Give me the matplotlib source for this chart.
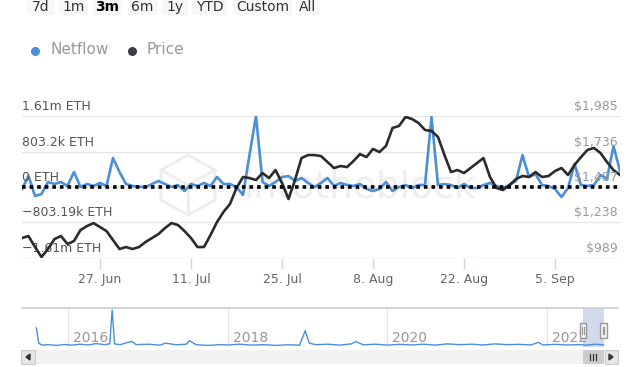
import matplotlib
matplotlib.use("Agg")
import matplotlib.pyplot as plt
import matplotlib.patches as mpatches
import pandas as pd
import numpy as np

# ---------------- data ----------------
start_date = "2022-06-15"
netflow_k = [-45, 249, -204, -158, 113, 68, 113, 23, 339, 0,
             68, 23, 91, 23, 656, 339, 68, 23, 5, -5,
             68, 136, 68, 0, 45, -91, 68, 23, 91, 23,
             226, 68, 68, 0, -181, 724, 1607, 113, 23, 113,
             226, 249, 136, 204, 91, 0, 91, 204, 23, 91,
             45, 23, 68, -45, -91, -45, 113, -91, 0, 45,
             -23, 45, 45, 1584, 45, 68, 45, -23, 68, -23,
             -23, 45, 91, 23, -23, 45, 136, 724, 226, 294,
             45, 23, -45, -226, -23, 520, 45, 23, 45, 272,
             181, 928, 362]
price = [1129, 1143, 1066, 996, 1052, 1122, 1143, 1087, 1108, 1185,
         1213, 1234, 1206, 1178, 1115, 1052, 1066, 1052, 1066, 1101,
         1129, 1157, 1199, 1234, 1220, 1178, 1129, 1066, 1066, 1150,
         1241, 1312, 1368, 1480, 1557, 1550, 1536, 1585, 1550, 1606,
         1515, 1403, 1536, 1690, 1711, 1711, 1704, 1662, 1620, 1634,
         1627, 1669, 1718, 1697, 1754, 1732, 1775, 1901, 1915, 1978,
         1964, 1936, 1887, 1880, 1838, 1711, 1592, 1606, 1585, 1620,
         1655, 1690, 1557, 1480, 1466, 1501, 1543, 1564, 1557, 1592,
         1557, 1564, 1599, 1620, 1571, 1641, 1697, 1747, 1761, 1725,
         1662, 1606, 1571]

netflow_ticks = [-1606.4e3, -803.19e3, 0, 803.2e3, 1606.4e3]
netflow_labels = ["\u22121.61m ETH", "\u2212803.19k ETH", "0 ETH", "803.2k ETH", "1.61m ETH"]
price_ticks = [989, 1238, 1487, 1736, 1985]
price_labels = ["$989", "$1,238", "$1,487", "$1,736", "$1,985"]
date_ticks = ["2022-06-27", "2022-07-11", "2022-07-25", "2022-08-08", "2022-08-22", "2022-09-05"]
date_labels = ["27. Jun", "11. Jul", "25. Jul", "8. Aug", "22. Aug", "5. Sep"]

buttons = ["7d", "1m", "3m", "6m", "1y", "YTD", "Custom", "All"]
selected_button = "3m"

nav_years = [2015.60, 2015.63, 2015.67, 2015.75, 2015.85, 2015.95, 2016.05, 2016.15, 2016.25, 2016.35,
             2016.45, 2016.52, 2016.55, 2016.58, 2016.65, 2016.75, 2016.80, 2016.85, 2017.00, 2017.15,
             2017.22, 2017.35, 2017.48, 2017.52, 2017.60, 2017.75, 2017.90, 2018.00, 2018.15, 2018.30,
             2018.45, 2018.60, 2018.75, 2018.90, 2018.97, 2019.02, 2019.10, 2019.25, 2019.40, 2019.55,
             2019.60, 2019.70, 2019.85, 2020.00, 2020.15, 2020.30, 2020.45, 2020.60, 2020.75, 2020.90,
             2021.05, 2021.20, 2021.35, 2021.50, 2021.65, 2021.80, 2021.89, 2021.95, 2022.10, 2022.25,
             2022.40, 2022.50, 2022.60, 2022.71]
nav_values = [1.22, 0.25, 0.12, 0.15, 0.10, 0.16, 0.12, 0.18, 0.13, 0.22,
              0.15, 0.20, 2.37, 0.20, 0.15, 0.30, 0.35, 0.15, 0.18, 0.12,
              0.25, 0.14, 0.18, 0.40, 0.15, 0.10, 0.15, 0.13, 0.18, 0.12,
              0.15, 0.10, 0.14, 0.12, 1.05, 0.25, 0.15, 0.18, 0.12, 0.20,
              0.35, 0.14, 0.18, 0.12, 0.17, 0.13, 0.18, 0.12, 0.20, 0.15,
              0.18, 0.13, 0.20, 0.15, 0.17, 0.13, 0.30, 0.13, 0.17, 0.13,
              0.15, 0.12, 0.18, 0.14]
nav_year_ticks = [2016, 2018, 2020, 2022]
nav_selected = [2022.45, 2022.71]

# ---------------- styling ----------------
W, H = 640, 367
BLUE = "#4a8fd8"
DARK = "#2b2b2b"
plt.rcParams["font.family"] = ["DejaVu Sans"]

fig = plt.figure(figsize=(W / 100, H / 100), dpi=100)
fig.patch.set_facecolor("white")


def px_axes(x0, y0, x1, y1, **kw):
    return fig.add_axes([x0 / W, 1 - y1 / H, (x1 - x0) / W, (y1 - y0) / H], **kw)


# background overlay axes in pixel coordinates
bg = px_axes(0, 0, W, H)
bg.set_xlim(0, W)
bg.set_ylim(H, 0)
bg.axis("off")

# range selector buttons
btn_boxes = [(27, 55), (59, 88), (93, 122), (128, 157), (162, 188), (192, 227), (233, 292), (296, 320)]
for lbl, (bx0, bx1) in zip(buttons, btn_boxes):
    bg.add_patch(mpatches.Rectangle((bx0, -3), bx1 - bx0, 18, facecolor="#f7f7f7", edgecolor="none"))
    bg.text((bx0 + bx1) / 2, 7, lbl, ha="center", va="center", fontsize=10,
            color="#000000" if lbl == selected_button else "#333333",
            fontweight="bold" if lbl == selected_button else "normal")

# legend
bg.plot([35], [51], "o", color=BLUE, ms=6.5, mec="none")
bg.text(50, 50, "Netflow", ha="left", va="center", fontsize=11, color="#999999")
bg.plot([132], [51], "o", color="#3a3d44", ms=6.5, mec="none")
bg.text(147, 50, "Price", ha="left", va="center", fontsize=11, color="#999999")

# watermark
cube = [(188, 155), (215, 170), (215, 200), (188, 215), (161, 200), (161, 170), (188, 155)]
bg.plot([p[0] for p in cube], [p[1] for p in cube], color="#ededed", lw=2, zorder=0)
bg.plot([161, 188, 215], [170, 185, 170], color="#ededed", lw=2, zorder=0)
bg.plot([188, 188], [185, 215], color="#ededed", lw=2, zorder=0)
bg.text(360, 187, "intotheblock", ha="center", va="center", fontsize=27, color="#eeeeee", zorder=0)

# ---------------- main chart ----------------
dates = pd.date_range(start_date, periods=len(price), freq="D")
ax = px_axes(22, 116, 620, 258)
ax.patch.set_alpha(0)
ax2 = ax.twinx()
ax2.patch.set_alpha(0)

netflow = np.array(netflow_k) * 1000.0
ax.plot(dates, netflow, color=BLUE, lw=1.9, solid_joinstyle="round", zorder=3)
ax2.plot(dates, price, color=DARK, lw=1.9, solid_joinstyle="round", zorder=3)
ax2.plot([dates[0], dates[-1]], [0, 0], transform=ax.transData, color="black",
         lw=2.6, linestyle=(0, (1, 1.1)), zorder=5)

ax.set_xlim(dates[0], dates[-1])
ax.set_ylim(netflow_ticks[0], netflow_ticks[-1])
ax2.set_ylim(price_ticks[0], price_ticks[-1])

for a in (ax, ax2):
    for s in a.spines.values():
        s.set_visible(False)
    a.set_yticks([])
    a.tick_params(axis="both", length=0, labelleft=False, labelright=False)

for t in netflow_ticks[1:]:
    ax.axhline(t, color="#e6e6e6", lw=1, zorder=0)
ax.axhline(netflow_ticks[0], color="#ccd6eb", lw=1, zorder=0)

for t, l in zip(netflow_ticks, netflow_labels):
    ax.annotate(l, xy=(0, t), xycoords=("axes fraction", "data"), xytext=(0, 3),
                textcoords="offset pixels", ha="left", va="bottom", fontsize=9, color="#555555")
for t, l in zip(price_ticks, price_labels):
    ax2.annotate(l, xy=(1, t), xycoords=("axes fraction", "data"), xytext=(-2, 3),
                 textcoords="offset pixels", ha="right", va="bottom", fontsize=9, color="#999999")

tick_dates = pd.to_datetime(date_ticks)
ax.set_xticks(tick_dates)
ax.set_xticklabels(date_labels, fontsize=9, color="#666666")
ax.tick_params(axis="x", length=8, color="#ccd6eb", width=1, pad=3)

# ---------------- navigator ----------------
nav = px_axes(22, 308, 618, 347)
nav.set_xlim(2015.42, 2022.89)
nav.set_ylim(0, 2.5)
nav.plot(nav_years, nav_values, color=BLUE, lw=1)
for s in nav.spines.values():
    s.set_visible(False)
nav.axhline(2.5, color="#cccccc", lw=1.2, clip_on=False)
for y in nav_year_ticks:
    nav.axvline(y, color="#e6e6e6", lw=1, zorder=0)
    nav.text(y + 0.06, 0.1, str(y), ha="left", va="bottom", fontsize=10, color="#999999", zorder=1)
nav.set_xticks([])
nav.set_yticks([])
nav.axvspan(nav_selected[0], nav_selected[1], color="#6685c2", alpha=0.3, lw=0)
for hx in nav_selected:
    nav.add_patch(mpatches.Rectangle((hx - 0.04, 0.6), 0.08, 0.95, facecolor="#f2f2f2",
                                     edgecolor="#999999", lw=1, zorder=6))
    nav.plot([hx - 0.01, hx - 0.01], [0.85, 1.3], color="#999999", lw=0.8, zorder=7)
    nav.plot([hx + 0.01, hx + 0.01], [0.85, 1.3], color="#999999", lw=0.8, zorder=7)

# scrollbar (pixel overlay)
sb = px_axes(0, 0, W, H)
sb.set_xlim(0, W)
sb.set_ylim(H, 0)
sb.axis("off")
sb.patch.set_alpha(0)
sb.add_patch(mpatches.Rectangle((21, 350), 597, 14, facecolor="#f2f2f2", edgecolor="none"))
sb.add_patch(mpatches.Rectangle((21, 350), 14, 14, facecolor="#e6e6e6", edgecolor="#cccccc", lw=0.8))
sb.add_patch(mpatches.Rectangle((605, 350), 13, 14, facecolor="#e6e6e6", edgecolor="#cccccc", lw=0.8))
sb.add_patch(mpatches.Polygon([(30, 354), (30, 360), (26, 357)], closed=True, color="#333333"))
sb.add_patch(mpatches.Polygon([(609, 354), (609, 360), (613, 357)], closed=True, color="#333333"))
sb.add_patch(mpatches.Rectangle((583, 350), 21, 14, facecolor="#cccccc", edgecolor="none"))
for rx in (590, 593, 596):
    sb.plot([rx, rx], [354, 360], color="#333333", lw=0.9)

fig.savefig("out.png", dpi=100)
